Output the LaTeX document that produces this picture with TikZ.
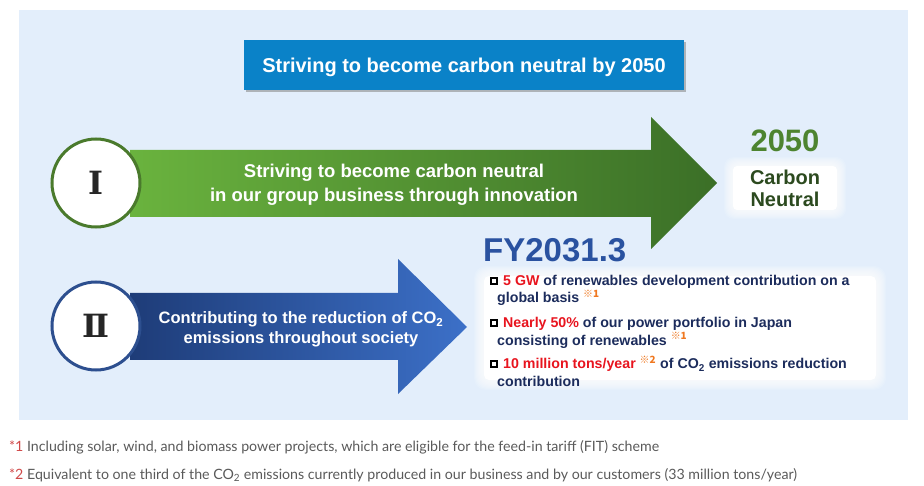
\documentclass[tikz,border=0pt]{standalone}
\usepackage{fontspec}
\setmainfont{Liberation Sans}
\newfontfamily\notefont{Lato}
\newfontfamily\numfont{DejaVu Serif}
\newfontfamily\markfont{Noto Sans CJK JP}
\definecolor{panelbg}{HTML}{E3EEFB}
\definecolor{titleblue}{HTML}{0A82C8}
\definecolor{lightgreen}{HTML}{6AB33E}
\definecolor{darkgreen}{HTML}{3B6F27}
\definecolor{ringgreen}{HTML}{4A7A2C}
\definecolor{yeargreen}{HTML}{4D8430}
\definecolor{goalgreen}{HTML}{2C4A1F}
\definecolor{navyblue}{HTML}{1E3C78}
\definecolor{brightblue}{HTML}{3C70C8}
\definecolor{ringblue}{HTML}{2D4F8F}
\definecolor{fyblue}{HTML}{2A52A0}
\definecolor{listnavy}{HTML}{1C2C5C}
\definecolor{hired}{HTML}{E8141E}
\definecolor{markorange}{HTML}{F07820}
\definecolor{notegray}{HTML}{5A5A5A}
\definecolor{notered}{HTML}{D04848}
\newcommand\fsz[1]{\fontsize{#1}{#1}\selectfont}
\newcommand\refmk[1]{\textsuperscript{\color{markorange}\markfont ※#1}}
\newcommand\hi[1]{\textcolor{hired}{#1}}
\begin{document}
\begin{tikzpicture}[x=1pt,y=-1pt,
  txt/.style={inner sep=0pt,anchor=base},
  lst/.style={inner sep=0pt,anchor=base west,font=\fsz{14.2}\bfseries,text=listnavy},
  num/.style={circle,draw,fill=white,line width=3pt,minimum size=88pt,inner sep=0pt,font=\numfont\bfseries\fsz{32},text=black!85},
  sq/.style={draw=black,line width=1.3pt,minimum size=6pt,inner sep=0pt},
  note/.style={inner sep=0pt,anchor=base west,font=\notefont\fsz{14.2},text=notegray}]
\useasboundingbox[fill=white] (0,0) rectangle (924,486);
\fill[panelbg] (19,10) rectangle (908,420);

\fill[black!45,opacity=.6] (246,42) rectangle (686,92);
\node at (464,65) [fill=titleblue,minimum width=440pt,minimum height=50pt] (titlebox) {};
\node at (464,73) [txt,font=\fsz{20}\bfseries,text=white] (title) {Striving to become carbon neutral by 2050};

\shade[left color=lightgreen,right color=darkgreen] (130,150) -- (651,150) -- (651,117) -- (717,183) -- (651,249) -- (651,217) -- (130,217) -- cycle;
\shade[left color=navyblue,right color=brightblue] (130,293) -- (398,293) -- (398,259) -- (467,327) -- (398,394) -- (398,360) -- (130,360) -- cycle;
\node at (96,183) [num,draw=ringgreen] (one) {Ⅰ};
\node at (96,326) [num,draw=ringblue] (two) {Ⅱ};
\node at (394,178) [txt,font=\fsz{18.5}\bfseries,text=white] (g1) {Striving to become carbon neutral};
\node at (394,202) [txt,font=\fsz{18.5}\bfseries,text=white] (g2) {in our group business through innovation};
\node at (301,324) [txt,font=\fsz{16.5}\bfseries,text=white] (b1) {Contributing to the reduction of CO\textsubscript{2}};
\node at (301,344) [txt,font=\fsz{16.5}\bfseries,text=white] (b2) {emissions throughout society};

\foreach \g in {9,...,1}
  \fill[white,opacity=.14,rounded corners=10pt] (733-\g,166-\g) rectangle (837+\g,210+\g);
\fill[white,rounded corners=4pt] (733,166) rectangle (837,210);
\node at (785,152) [txt,font=\fsz{31}\bfseries,text=yeargreen] (year) {2050};
\node at (785,185) [txt,font=\fsz{20}\bfseries,text=goalgreen] (goal1) {Carbon};
\node at (785,207) [txt,font=\fsz{20}\bfseries,text=goalgreen] (goal2) {Neutral};

\node at (483,262) [txt,anchor=base west,font=\fsz{33}\bfseries,text=fyblue] (fy) {FY2031.3};
\foreach \g in {10,...,1}
  \fill[white,opacity=.14,rounded corners=12pt] (484-\g,276-\g) rectangle (876+\g,380+\g);
\fill[white,rounded corners=5pt] (484,276) rectangle (876,380);
\node at (494,281) [sq] (sq1) {};
\node at (494,323) [sq] (sq2) {};
\node at (494,364) [sq] (sq3) {};
\node at (503,286) [lst] (l1) {\hi{5 GW} of renewables development contribution on a};
\node at (497,303) [lst] (l2) {global basis \refmk{1}};
\node at (503,328) [lst] (l3) {\hi{Nearly 50\%} of our power portfolio in Japan};
\node at (497,345) [lst] (l4) {consisting of renewables \refmk{1}};
\node at (503,369) [lst] (l5) {\hi{10 million tons/year} \refmk{2} of CO\textsubscript{2} emissions reduction};
\node at (497,386) [lst] (l6) {contribution};

\node at (9,451) [note] (n1) {\textcolor{notered}{*1} Including solar, wind, and biomass power projects, which are eligible for the feed-in tariff (FIT) scheme};
\node at (9,479) [note] (n2) {\textcolor{notered}{*2} Equivalent to one third of the CO\textsubscript{2} emissions currently produced in our business and by our customers (33 million tons/year)};
\end{tikzpicture}
\end{document}
